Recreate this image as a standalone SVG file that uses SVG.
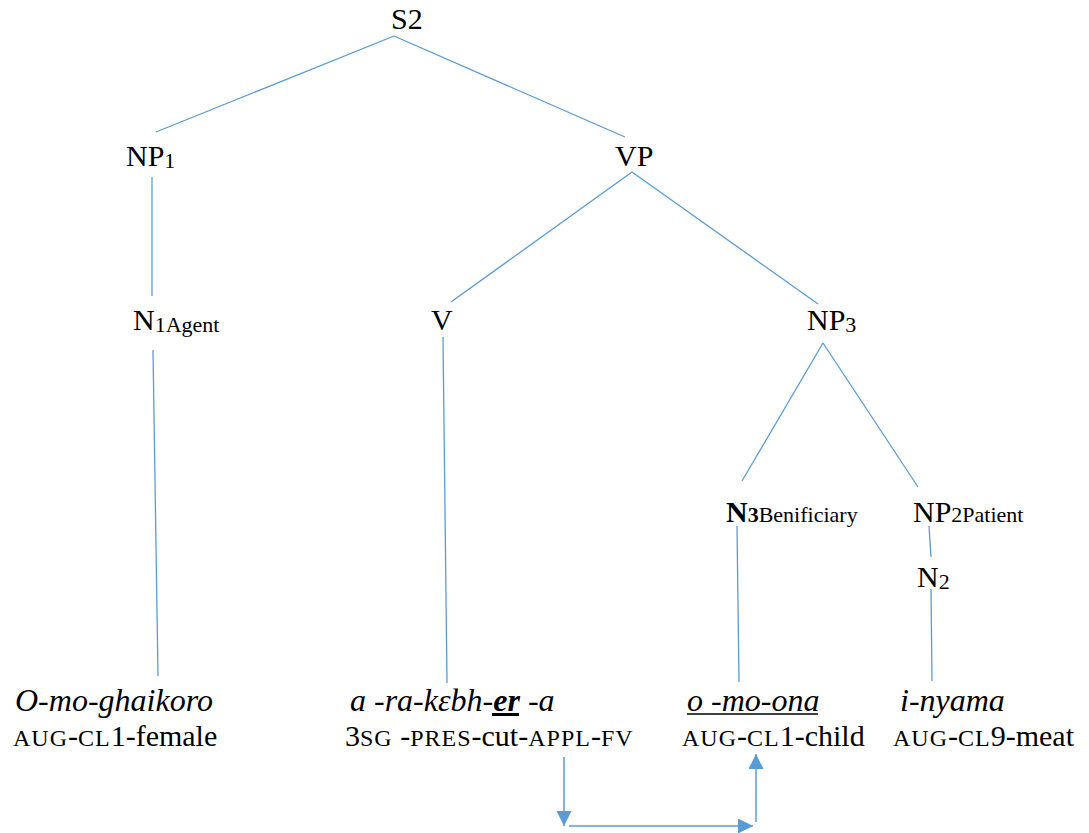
<svg xmlns="http://www.w3.org/2000/svg" width="1089" height="833" viewBox="0 0 1089 833">
  <defs>
    <marker id="tri" viewBox="0 0 15 15" refX="15" refY="7.5" markerWidth="15" markerHeight="15" markerUnits="userSpaceOnUse" orient="auto">
      <path d="M0,0 L15,7.5 L0,15 Z" fill="#5B9BD5"/>
    </marker>
  </defs>
  <rect width="1089" height="833" fill="#fff"/>

  <!-- tree branches -->
  <g id="connectors" stroke="#5B9BD5" stroke-width="1.3" fill="none">
    <line x1="394" y1="36" x2="156" y2="132"/>
    <line x1="394" y1="36" x2="625" y2="137"/>
    <line x1="152" y1="177" x2="152" y2="296"/>
    <line x1="153" y1="350" x2="158" y2="676"/>
    <line x1="632" y1="172" x2="451" y2="302"/>
    <line x1="632" y1="172" x2="818" y2="304"/>
    <line x1="443" y1="337" x2="447" y2="683"/>
    <line x1="823" y1="343" x2="742" y2="481"/>
    <line x1="823" y1="343" x2="918" y2="487"/>
    <line x1="737" y1="526" x2="739" y2="682"/>
    <line x1="929" y1="526" x2="931" y2="557"/>
    <line x1="931" y1="589" x2="932" y2="681"/>
    <!-- applicative link from the verb to the beneficiary -->
    <line x1="564" y1="757" x2="564" y2="826" stroke-width="1.5" marker-end="url(#tri)"/>
    <line x1="569" y1="826" x2="753" y2="826" stroke-width="1.5" marker-end="url(#tri)"/>
    <line x1="756" y1="822" x2="756" y2="754" stroke-width="1.5" marker-end="url(#tri)"/>
  </g>

  <g id="node-s2"><text x="391" y="29" font-family="Liberation Serif" font-size="30">S2</text></g>
  <g id="node-np1"><text x="126" y="166" font-family="Liberation Serif" font-size="30">NP<tspan dy="2" font-size="22">1</tspan></text></g>
  <g id="node-vp"><text x="615" y="166" font-family="Liberation Serif" font-size="30">VP</text></g>
  <g id="node-n1"><text x="133" y="330" font-family="Liberation Serif" font-size="30">N<tspan dy="2" font-size="22">1Agent</tspan></text></g>
  <g id="node-v"><text x="431" y="330" font-family="Liberation Serif" font-size="30">V</text></g>
  <g id="node-np3"><text x="807" y="330" font-family="Liberation Serif" font-size="30">NP<tspan dy="2" font-size="22">3</tspan></text></g>
  <g id="node-n3"><text x="726" y="522" font-family="Liberation Serif" font-size="30"><tspan font-weight="bold">N</tspan><tspan font-size="22" font-weight="bold">3</tspan><tspan font-size="22">Benificiary</tspan></text></g>
  <g id="node-np2"><text x="913" y="522" font-family="Liberation Serif" font-size="30">NP<tspan font-size="22">2Patient</tspan></text></g>
  <g id="node-n2"><text x="917" y="587" font-family="Liberation Serif" font-size="30">N<tspan dy="2" font-size="22">2</tspan></text></g>

  <g id="word-agent">
    <text x="15" y="711" font-family="Liberation Serif" font-size="32" font-style="italic">O-mo-ghaikoro</text>
    <text x="13" y="746" font-family="Liberation Serif" font-size="30"><tspan font-size="24" letter-spacing="1">AUG</tspan>-<tspan font-size="24" letter-spacing="1">CL</tspan>1-female</text>
  </g>
  <g id="word-verb">
    <text x="350" y="711" font-family="Liberation Serif" font-size="32" font-style="italic">a -ra-kɛbh-<tspan font-weight="bold">er</tspan> -a</text>
    <line x1="492" y1="714.5" x2="519" y2="714.5" stroke="#000" stroke-width="3"/>
    <text x="345" y="746" font-family="Liberation Serif" font-size="30">3<tspan font-size="24" letter-spacing="1">SG</tspan> -<tspan font-size="24" letter-spacing="1">PRES</tspan>-cut-<tspan font-size="24" letter-spacing="1">APPL</tspan>-<tspan font-size="24" letter-spacing="1">FV</tspan></text>
  </g>
  <g id="word-beneficiary">
    <text x="687" y="711" font-family="Liberation Serif" font-size="32" font-style="italic">o -mo-ona</text>
    <line x1="687" y1="714" x2="818" y2="714" stroke="#000" stroke-width="1.5"/>
    <text x="682" y="746" font-family="Liberation Serif" font-size="30"><tspan font-size="24" letter-spacing="1">AUG</tspan>-<tspan font-size="24" letter-spacing="1">CL</tspan>1-child</text>
  </g>
  <g id="word-patient">
    <text x="900" y="711" font-family="Liberation Serif" font-size="32" font-style="italic">i-nyama</text>
    <text x="893" y="746" font-family="Liberation Serif" font-size="30"><tspan font-size="24" letter-spacing="1">AUG</tspan>-<tspan font-size="24" letter-spacing="1">CL</tspan>9-meat</text>
  </g>
</svg>
